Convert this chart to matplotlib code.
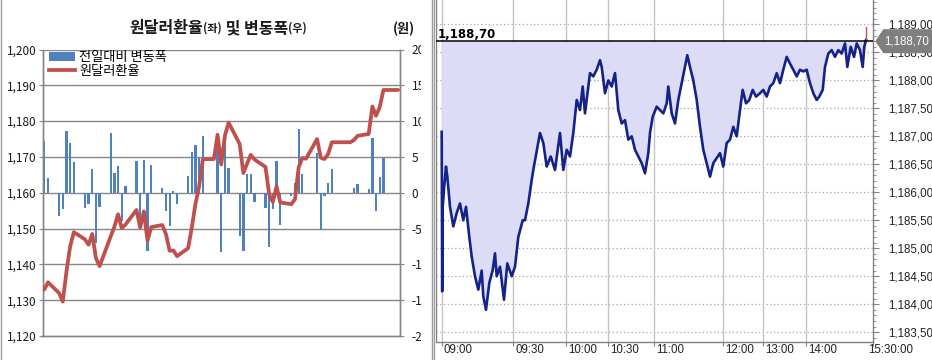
import matplotlib
matplotlib.use('Agg')
import matplotlib.pyplot as plt
import matplotlib.dates as mdates
import matplotlib.ticker as mticker
import matplotlib.transforms as mtransforms
from matplotlib.patches import Patch, Polygon, Rectangle
from matplotlib.lines import Line2D
import pandas as pd
import numpy as np

plt.rcParams['font.family'] = ['Noto Sans CJK KR', 'DejaVu Sans']

# ---------------- data: left chart (daily) ----------------
dates = [
    '2021-07-01', '2021-07-02', '2021-07-05', '2021-07-06', '2021-07-07', '2021-07-08', '2021-07-09',
    '2021-07-12', '2021-07-13', '2021-07-14', '2021-07-15', '2021-07-16', '2021-07-19', '2021-07-20',
    '2021-07-21', '2021-07-22', '2021-07-23', '2021-07-26', '2021-07-27', '2021-07-28', '2021-07-29',
    '2021-07-30',
    '2021-08-02', '2021-08-03', '2021-08-04', '2021-08-05', '2021-08-06', '2021-08-09', '2021-08-10',
    '2021-08-11', '2021-08-12', '2021-08-13', '2021-08-16', '2021-08-17', '2021-08-18', '2021-08-19',
    '2021-08-20', '2021-08-23', '2021-08-24', '2021-08-25', '2021-08-26', '2021-08-27', '2021-08-30',
    '2021-08-31',
    '2021-09-01', '2021-09-02', '2021-09-03', '2021-09-06', '2021-09-07', '2021-09-08', '2021-09-09',
    '2021-09-10', '2021-09-13', '2021-09-14', '2021-09-15', '2021-09-16', '2021-09-17', '2021-09-20',
    '2021-09-21', '2021-09-22', '2021-09-23', '2021-09-24', '2021-09-27', '2021-09-28', '2021-09-29',
    '2021-09-30',
    '2021-10-01', '2021-10-04', '2021-10-05',
]
usdkrw = [
    1133.0, 1135.0, 1132.0, 1129.6, 1138.0, 1145.0, 1149.0, 1147.0, 1145.5, 1148.5, 1141.7,
    1139.5, 1147.8, 1150.5, 1154.0, 1150.1, 1151.1, 1155.2, 1150.3, 1154.8, 1146.6, 1150.4,
    1151.0, 1148.4, 1143.8, 1143.9, 1142.3, 1144.5, 1150.2, 1156.9, 1161.8, 1169.4, 1169.4,
    1176.2, 1167.9, 1176.0, 1179.6, 1173.6, 1165.5, 1168.1, 1170.6, 1169.3, 1167.2, 1159.6,
    1157.4, 1161.8, 1157.3, 1156.8, 1158.2, 1167.1, 1169.7, 1169.5, 1175.0, 1169.8, 1169.4,
    1170.8, 1174.1, 1174.1, 1174.1, 1174.1, 1174.7, 1175.9, 1176.4, 1184.1, 1181.5, 1183.9,
    1188.7, 1188.7, 1188.7,
]
change = [
    7.2, 2.0, -3.3, -2.2, 8.6, 7.0, 4.3, -2.1, -1.6, 3.3, -7.0,
    -2.0, 8.4, 2.7, 3.7, -4.0, 1.0, 4.4, -4.9, 4.6, -8.2, 3.9,
    0.7, -2.6, -4.7, 0.2, -1.6, 2.3, 5.7, 6.7, 4.9, 7.9, 0.0,
    6.6, -8.3, 8.3, 3.5, -6.0, -8.1, 2.6, 2.6, -1.3, -2.1, -7.6,
    -2.2, 4.4, -4.5, -0.5, 1.4, 8.9, 2.6, -0.2, 5.5, -5.2, -0.4,
    1.4, 3.3, 0.0, 0.0, 0.0, 0.6, 1.2, 0.5, 7.7, -2.6, 2.2,
    4.8, 0.0, 0.0,
]
month_ticks = ['2021-07-01', '2021-08-01', '2021-09-01', '2021-10-01']
month_labels = ['21/07', '21/08', '21/09', '21/10']
left_ticks = [1120, 1130, 1140, 1150, 1160, 1170, 1180, 1190, 1200]
right_ticks = [-20, -15, -10, -5, 0, 5, 10, 15, 20]

# ---------------- data: right chart (intraday, tick index vs price) ----------------
tick_idx = [
    0, 0.5, 1.0, 2.5, 4.3, 5.6, 8.3, 11.6, 15, 18.3, 21.6, 24.3, 27.6, 30, 33.3, 36.6, 40, 41.6,
    44.3, 47.6, 51, 53.3, 55, 58.3, 62.3, 65.6, 70, 73.3, 76.6, 81, 83.3, 86.6, 90, 91.6, 98.3,
    101.6, 105, 109, 113.3, 118.3, 121.6, 125, 128.3, 131.6, 135, 138.3, 141, 143.3, 148.3, 151.6,
    155, 158.3, 160, 163.3, 166.6, 170, 173.3, 176.6, 180, 183.3, 186.6, 190, 193.3, 196.6, 200,
    203.3, 206.6, 208.3, 211, 215, 218.3, 221.6, 225, 226.6, 230, 233.3, 236.6, 240, 243.3, 245.6,
    248.3, 251.6, 255, 258.3, 261.6, 265, 268.3, 271.6, 275, 278.3, 281.6, 285, 288.3, 291.6, 295,
    298.3, 301, 304.3, 307.6, 311, 314.3, 318.3, 321.6, 325, 328.3, 331.6, 335, 338.3, 341.6, 345,
    348.3, 351.6, 355, 358.3, 361.6, 365, 368.3, 371.6, 375, 377.6, 381, 383.3, 386.6, 390, 393.3,
    396.6, 400, 403.3, 405.6, 409, 412.3, 415, 418.3, 421, 422.6, 424.3,
]
price = [
    1187.08, 1184.23, 1185.74, 1186.10, 1186.46, 1186.28, 1185.74, 1185.39, 1185.63, 1185.80,
    1185.50, 1185.74, 1185.20, 1184.85, 1184.50, 1184.26, 1184.60, 1184.14, 1183.90, 1184.38,
    1184.61, 1184.91, 1184.50, 1184.67, 1184.08, 1184.73, 1184.50, 1184.67, 1185.20, 1185.50,
    1185.50, 1185.80, 1186.22, 1186.40, 1187.06, 1186.88, 1186.46, 1186.64, 1186.40, 1187.06,
    1186.40, 1186.76, 1186.64, 1187.06, 1187.65, 1187.47, 1187.89, 1187.41, 1188.13, 1188.07,
    1188.19, 1188.36, 1188.24, 1187.77, 1188.00, 1187.89, 1188.13, 1187.47, 1187.23, 1187.29,
    1186.94, 1187.00, 1186.76, 1186.64, 1186.52, 1186.34, 1186.70, 1187.06, 1187.35, 1187.53,
    1187.47, 1187.41, 1187.59, 1187.89, 1187.41, 1187.23, 1187.65, 1187.95, 1188.24, 1188.45,
    1188.24, 1188.00, 1187.65, 1187.17, 1186.76, 1186.52, 1186.28, 1186.52, 1186.61, 1186.70,
    1186.46, 1186.88, 1186.94, 1187.17, 1187.00, 1187.47, 1187.83, 1187.59, 1187.65, 1187.83,
    1187.71, 1187.77, 1187.83, 1187.71, 1187.89, 1187.95, 1188.13, 1187.95, 1188.19, 1188.42,
    1188.30, 1188.19, 1188.07, 1188.19, 1188.16, 1188.19, 1187.95, 1187.77, 1187.65, 1187.71,
    1187.83, 1188.24, 1188.48, 1188.54, 1188.42, 1188.54, 1188.48, 1188.66, 1188.24, 1188.60,
    1188.42, 1188.66, 1188.54, 1188.24, 1188.60, 1188.72,
]
last_price = 1188.70
last_high = 1188.96
time_tick_idx = [0, 71.6, 124, 166, 212.6, 281, 321, 364, 431.6]
time_labels = ['09:00', '09:30', '10:00', '10:30', '11:00', '12:00', '13:00', '14:00', '15:30:00']
price_ticks = [1183.5, 1184.0, 1184.5, 1185.0, 1185.5, 1186.0, 1186.5, 1187.0, 1187.5, 1188.0, 1188.5, 1189.0]


def kfmt(v):
    return f"{v:,.2f}".replace('.', ',')


# ---------------- figure ----------------
W, H = 932, 360
fig = plt.figure(figsize=(W / 100, H / 100), dpi=100)
fig.patch.set_facecolor('white')


def fx(x):
    return x / W


def fy(y):
    return 1 - y / H


# ======== left chart ========
axL = fig.add_axes([fx(42.5), fy(336), (400 - 42.5) / W, (336 - 49.5) / H])
axB = axL.twinx()
axL.set_zorder(axB.get_zorder() + 1)
axL.patch.set_visible(False)

pos = [mdates.date2num(pd.Timestamp(d)) + 0.5 for d in dates]
xmin = mdates.date2num(pd.Timestamp('2021-07-01'))
xmax = mdates.date2num(pd.Timestamp('2021-10-06'))

grid_c = '#868686'
axB.bar(pos, change, width=0.62, color='#4f81bd', zorder=3, linewidth=0)
for v in right_ticks[1:]:
    axB.axhline(v, color=grid_c, lw=1.0, zorder=1)
axL.plot(pos, usdkrw, color='#c0504d', lw=2.7, solid_joinstyle='round', solid_capstyle='round', zorder=5)

for a in (axL, axB):
    a.set_xlim(xmin, xmax)
axL.set_ylim(1120, 1200)
axB.set_ylim(-20, 20)
axL.set_yticks(left_ticks)
axL.set_yticklabels([f"{v:,}" for v in left_ticks])
axB.set_yticks(right_ticks)
axB.set_yticklabels([str(v) for v in right_ticks])

axL.set_xticks([mdates.date2num(pd.Timestamp(d)) for d in month_ticks])
axL.set_xticklabels(month_labels)
axB.set_xticks([])

for a in (axL, axB):
    for s in a.spines.values():
        s.set_color(grid_c)
        s.set_linewidth(1.0)
    a.spines['top'].set_visible(False)

axL.tick_params(axis='y', which='both', length=3, color=grid_c, pad=1.5, labelsize=8.5, labelcolor='#1a1a1a')
axB.tick_params(axis='y', which='both', length=3, color=grid_c, pad=5.5, labelsize=8.5, labelcolor='#1a1a1a')
axL.tick_params(axis='x', direction='in', length=3, color=grid_c, pad=6, labelsize=8.5, labelcolor='#1a1a1a')
for lab in axL.get_xticklabels():
    lab.set_transform(lab.get_transform() + mtransforms.ScaledTranslation(3 / 100, 0, fig.dpi_scale_trans))

h1 = Patch(facecolor='#4f81bd', edgecolor='none')
h2 = Line2D([], [], color='#c0504d', lw=2.7)
axL.legend([h1, h2], ['전일대비 변동폭', '원달러환율'], loc='upper left',
           bbox_to_anchor=(fx(49), fy(51)), bbox_transform=fig.transFigure,
           frameon=False, fontsize=9.5, handlelength=2.0, handleheight=0.6,
           labelspacing=0.05, handletextpad=0.3, borderpad=0, borderaxespad=0)

# title built from pieces
parts = [('원달러환율', 11.5, 'bold'), ('(좌)', 8, 'bold'), (' 및 변동폭', 11.5, 'bold'), ('(우)', 8, 'bold')]
fig.canvas.draw()
renderer = fig.canvas.get_renderer()
widths = []
for s, fs, fw in parts:
    t = fig.text(0, 0, s, fontsize=fs, fontweight=fw)
    bb = t.get_window_extent(renderer)
    widths.append(bb.width)
    t.remove()
total = sum(widths)
x0 = 218 - total / 2
for (s, fs, fw), w in zip(parts, widths):
    fig.text(fx(x0), fy(28), s, fontsize=fs, fontweight=fw, va='center', ha='left', color='#1a1a1a')
    x0 += w
fig.text(fx(404), fy(29), '(원)', fontsize=9.5, fontweight='bold', va='center', ha='center', color='#1a1a1a')

# ======== right chart ========
rfont = 'Liberation Sans'
rfs = 8.3

axR = fig.add_axes([fx(436), fy(341.7), (873.3 - 436) / W, 341.7 / H])
axR.set_xlim(-5.7, 431.6)
axR.set_ylim(1183.33, 1189.436)

for v in price_ticks:
    axR.axhline(v, color='#a8a8a8', lw=0.9, ls=(0, (1, 2)), zorder=1)
for v in time_tick_idx[:-1]:
    axR.axvline(v, color='#c4c4c4', lw=1.0, zorder=1)

ti = np.array(tick_idx)
pr = np.array(price)
axR.fill_between(ti, pr, last_price, where=pr <= last_price + 0.05, color='#dcdcf6', lw=0, zorder=2,
                 interpolate=True)
axR.plot(ti, pr, color='#14228a', lw=1.9, zorder=4)
axR.plot([ti[-1], ti[-1]], [last_price, last_high], color='#c0504d', lw=1.0, zorder=4)
axR.axhline(last_price, color='black', lw=1.1, zorder=5)
fig.text(fx(437.5), fy(34), kfmt(last_price), fontsize=8.5, fontweight='bold', family='DejaVu Sans',
         va='center', ha='left', color='black')

axR.set_yticks(price_ticks)
axR.set_yticklabels([kfmt(v) for v in price_ticks], family=rfont, fontsize=rfs, color='#222222')
axR.yaxis.tick_right()
axR.yaxis.set_minor_locator(mticker.MultipleLocator(0.1))
axR.tick_params(axis='y', which='major', length=4, color='#808080', pad=7)
axR.tick_params(axis='y', which='minor', length=2, color='#808080')
axR.set_xticks(time_tick_idx)
axR.set_xticklabels([])
axR.tick_params(axis='x', length=3, color='#808080')
xt = mtransforms.blended_transform_factory(axR.transData, fig.transFigure)
for v, lab in zip(time_tick_idx, time_labels):
    off = -5 if lab == '15:30:00' else 2
    axR.text(v, fy(350), lab, transform=xt + mtransforms.ScaledTranslation(off / 100, 0, fig.dpi_scale_trans),
             ha='left', va='center', family=rfont, fontsize=rfs, color='#222222', clip_on=False)

for s in ('left', 'right', 'bottom'):
    axR.spines[s].set_color('#808080')
    axR.spines[s].set_linewidth(1.0)
axR.spines['top'].set_visible(False)

# price marker box on the right
bt = mtransforms.blended_transform_factory(axR.transAxes, axR.transData)
hh = 12 / 56
tip = 1 + 2 / 437.3
sh = 1 + 10 / 437.3
rend = 1 + (932 - 873.3) / 437.3
box = Polygon([[tip, last_price], [sh, last_price + hh], [rend, last_price + hh],
               [rend, last_price - hh], [sh, last_price - hh]], closed=True,
              transform=bt, facecolor='#7f7f7f', edgecolor='none', clip_on=False, zorder=10)
axR.add_patch(box)
axR.text(1 + 11 / 437.3, last_price, kfmt(last_price), transform=bt, ha='left', va='center',
         family=rfont, fontsize=rfs, color='white', zorder=11, clip_on=False)

# panel separators
fig.add_artist(Rectangle((fx(421), 0), fx(436) - fx(421), 1, transform=fig.transFigure,
                         facecolor='white', edgecolor='none', zorder=6))
for xx in (431.7, 434.2):
    fig.add_artist(Line2D([fx(xx), fx(xx)], [0, 1], transform=fig.transFigure, color='#9a9a9a', lw=1.0, zorder=7))
fig.add_artist(Line2D([fx(0.8), fx(0.8)], [0, 1], transform=fig.transFigure, color='#9a9a9a', lw=1.0, zorder=7))

fig.savefig('out.png', dpi=100)
